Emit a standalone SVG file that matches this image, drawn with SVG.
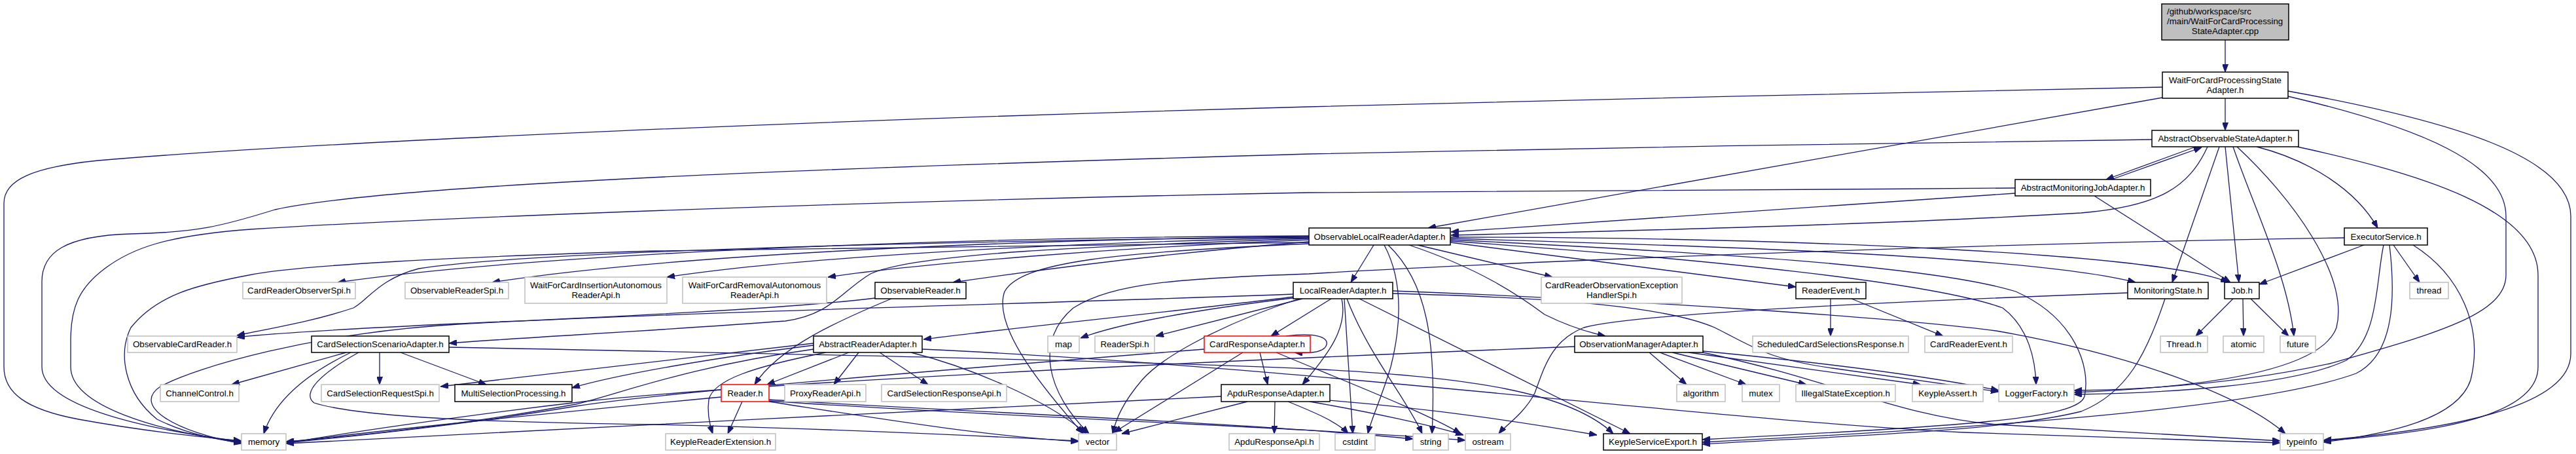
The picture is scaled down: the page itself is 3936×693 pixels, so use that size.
<svg xmlns="http://www.w3.org/2000/svg" width="3936" height="693" viewBox="0 0 3936 693">
<style>
.e path{fill:none;stroke:#191970;stroke-width:1.3;marker-end:url(#ah)}
.nd rect{fill:#fff;stroke:#000;stroke-width:1.5}
.gr rect{fill:#fff;stroke:#bfbfbf;stroke-width:1.5}
.rd rect{fill:#fff;stroke:#ff0000;stroke-width:1.5}
.rt rect{fill:#bfbfbf;stroke:#000;stroke-width:1.5}
text{font-family:"Liberation Sans",Arial,Helvetica,sans-serif;font-size:13.33px;fill:#000;text-anchor:middle}
text.l{text-anchor:start}
</style>
<defs>
<marker id="ah" viewBox="0 0 12 9" markerWidth="12" markerHeight="9" refX="12" refY="4.5" orient="auto" markerUnits="userSpaceOnUse"><path d="M0,0L12,4.5L0,9z" fill="#191970" stroke="#191970" stroke-width="1"/></marker>
</defs>
<rect x="0" y="0" width="3936" height="693" fill="#fff"/>
<g id="edges" class="e">
<path d="M3400,61 L3400,110"/>
<path d="M3400,150 L3400,199"/>
<path d="M3304,149 L2182,348"/>
<path d="M3304,133 C3000,138 2300,155 2000,163 C1300,182 500,215 150,245 C50,255 6,275 6,310 L6,560 C6,600 40,625 120,640 C230,660 320,668 369,673"/>
<path d="M3496,147 C3700,195 3829,250 3829,330 L3829,420 C3829,480 3720,510 3560,555 C3400,590 3250,595 3169,596"/>
<path d="M3496,139 C3750,185 3928,240 3928,330 L3928,540 C3928,620 3750,655 3550,672"/>
<path d="M3355,224 L3218,274"/>
<path d="M3226,274 L3364,225"/>
<path d="M3373,224 C3345,285 3300,315 3180,325 C2900,342 2500,352 2217,359"/>
<path d="M3288,213 C3000,216 2300,228 2000,235 C1300,255 600,280 420,320 C340,345 300,355 200,357 C100,360 64,385 64,430 L64,560 C64,620 220,655 369,674"/>
<path d="M3448,224 C3530,245 3600,290 3633,348"/>
<path d="M3391,224 L3319,431"/>
<path d="M3400,224 L3421,431"/>
<path d="M3412,224 C3445,320 3495,420 3505,513"/>
<path d="M3418,224 C3500,300 3590,420 3570,500 C3545,570 3350,592 3169,599"/>
<path d="M3510,224 C3700,265 3878,320 3878,420 L3878,560 C3878,640 3700,662 3550,673"/>
<path d="M3079,295 L2217,354"/>
<path d="M3200,299 L3408,431"/>
<path d="M3079,287 C2700,290 2300,292 2000,294 C1400,305 700,330 383,350 C250,360 200,380 160,410 C120,440 108,470 108,520 L108,560 C108,620 240,658 369,675"/>
<path d="M2099,374 L2064,431"/>
<path d="M2115,374 C2145,430 2140,500 2125,560 C2110,610 2095,640 2090,662"/>
<path d="M2121,374 C2180,430 2195,520 2188,662"/>
<path d="M2153,374 C2260,410 2320,450 2360,480 C2400,500 2430,508 2453,513"/>
<path d="M2166,374 L2372,423"/>
<path d="M2216,370 L2744,438"/>
<path d="M2216,364 C2600,375 3100,390 3263,431"/>
<path d="M2216,362 C2700,362 3300,385 3405,431"/>
<path d="M2216,368 C2600,395 2950,430 3060,470 C3100,500 3110,550 3111,587"/>
<path d="M2216,366 C2600,385 2950,405 3080,445 C3170,485 3195,560 3185,605 C3175,640 3000,650 2601,671"/>
<path d="M2000,370 C1600,375 1200,378 1000,383 C700,392 450,405 380,420 C300,435 240,450 200,500 C180,540 190,600 240,640 C290,665 340,672 369,676"/>
<path d="M2000,362 C1400,368 800,385 640,410 C580,425 560,460 540,470 C480,490 420,500 362,512"/>
<path d="M2000,360 C1400,362 800,390 516,431"/>
<path d="M2000,361 C1500,366 1000,392 752,431"/>
<path d="M2000,363 C1600,370 1200,395 1019,423"/>
<path d="M2000,366 C1700,378 1400,403 1265,423"/>
<path d="M2000,369 C1800,385 1600,410 1456,431"/>
<path d="M2000,364 C1700,375 1400,385 1330,418 C1285,445 1270,480 1200,490 C1000,505 800,515 686,524"/>
<path d="M2000,372 C1700,385 1560,400 1535,445 C1515,500 1600,600 1655,662"/>
<path d="M3612,374 L3452,434"/>
<path d="M3657,374 L3697,431"/>
<path d="M3642,374 C3630,430 3635,515 3585,550 C3500,590 3300,600 3169,602"/>
<path d="M3651,374 C3660,450 3660,540 3600,570 C3450,625 3000,655 2601,675"/>
<path d="M3687,374 C3760,420 3795,500 3775,580 C3755,640 3650,662 3550,675"/>
<path d="M3582,363 C3000,372 2300,400 2000,418 C1800,425 1700,432 1640,470 C1580,520 1600,600 1664,662"/>
<path d="M1337,455 C1200,472 900,485 700,494 C550,501 420,508 362,515"/>
<path d="M1362,456 C1280,490 1190,530 1153,587"/>
<path d="M1977,453 C1800,475 1550,500 1411,518"/>
<path d="M1983,454 C1850,470 1720,490 1651,516"/>
<path d="M1990,456 L1766,513"/>
<path d="M2034,456 L1942,513"/>
<path d="M1985,456 C1880,490 1780,540 1745,580 C1715,615 1705,640 1700,662"/>
<path d="M2054,456 L2067,662"/>
<path d="M2058,456 C2090,540 2150,610 2173,662"/>
<path d="M2077,456 L2491,662"/>
<path d="M2050,456 C2060,500 2030,540 1990,587"/>
<path d="M1976,449 C1600,463 1000,478 700,495 C480,508 300,560 245,590 C200,620 270,660 369,677"/>
<path d="M2128,444 C2500,458 2900,485 3050,505 C3250,540 3420,600 3492,662"/>
<path d="M2128,448 C2400,455 2550,470 2620,500 C2680,530 2700,548 2800,562 C2900,576 3000,590 3054,598"/>
<path d="M2797,456 L2797,513"/>
<path d="M2829,456 L2969,513"/>
<path d="M3251,447 C2900,460 2500,478 2420,500 C2370,520 2360,560 2345,600 C2330,630 2300,650 2290,662"/>
<path d="M3308,456 C3280,540 3250,600 3180,628 C3050,660 2800,666 2601,678"/>
<path d="M3412,456 L3355,513"/>
<path d="M3427,456 L3428,513"/>
<path d="M3439,456 L3497,513"/>
<path d="M529,538 L354,587"/>
<path d="M580,538 L580,587"/>
<path d="M612,538 L743,587"/>
<path d="M536,538 C470,570 420,610 403,662"/>
<path d="M548,538 C490,570 460,600 480,615 C560,640 800,645 1000,648 C1300,655 1550,668 1648,673"/>
<path d="M686,530 C1200,540 1700,550 2000,563 C2250,575 2400,600 2465,662"/>
<path d="M1297,538 L1172,587"/>
<path d="M1312,538 L1274,587"/>
<path d="M1344,538 L1418,587"/>
<path d="M1392,538 C1480,560 1600,610 1660,662"/>
<path d="M1262,538 C1150,560 1090,580 1083,610 C1080,630 1085,650 1089,662"/>
<path d="M1243,524 C1100,540 850,570 673,590"/>
<path d="M1243,527 C1100,545 950,570 874,592"/>
<path d="M1243,533 C1050,560 950,600 880,617 C700,650 520,668 437,674"/>
<path d="M1409,533 C2000,560 2600,640 3000,660 C3250,668 3400,672 3484,676"/>
<path d="M1965,513 C2010,507 2030,515 2027,526 C2024,537 2005,540 1978,538"/>
<path d="M1925,538 L1937,587"/>
<path d="M1899,538 L1702,660"/>
<path d="M1840,533 C1500,560 1000,600 880,620 C700,650 520,668 437,676"/>
<path d="M1950,538 C2050,580 2180,630 2232,662"/>
<path d="M1948,613 L1947,662"/>
<path d="M1906,613 L1714,662"/>
<path d="M1866,605 C1500,625 800,655 437,677"/>
<path d="M1968,613 C2010,630 2045,645 2060,662"/>
<path d="M2001,613 C2100,630 2190,650 2236,664"/>
<path d="M2030,611 C2200,625 2330,645 2440,664"/>
<path d="M1134,613 L1112,662"/>
<path d="M1175,613 C1350,640 1500,665 1648,674"/>
<path d="M1102,606 C900,625 600,655 437,675"/>
<path d="M1175,610 C1500,630 1900,645 2159,670"/>
<path d="M1175,612 C1500,635 1950,650 2239,672"/>
<path d="M2520,538 L2577,587"/>
<path d="M2536,538 L2668,587"/>
<path d="M2555,538 L2760,587"/>
<path d="M2580,538 L2935,587"/>
<path d="M2602,536 C2800,555 2950,575 3054,596"/>
<path d="M2406,529 C2000,545 1200,580 900,612 C700,635 500,665 437,677"/>
<path d="M2602,538 C2800,580 2900,635 3050,648 C3250,660 3400,668 3484,673"/>
</g>
<g id="n0" class="rt"><rect x="3303" y="6" width="194" height="55"/><text class="l" x="3311" y="22">/github/workspace/src</text><text class="l" x="3311" y="37">/main/WaitForCardProcessing</text><text x="3400" y="52">StateAdapter.cpp</text></g>
<g id="n1" class="nd"><rect x="3304" y="110" width="192" height="40"/><text x="3400" y="127">WaitForCardProcessingState</text><text x="3400" y="142">Adapter.h</text></g>
<g id="n2" class="nd"><rect x="3288" y="199" width="224" height="25"/><text x="3400" y="216">AbstractObservableStateAdapter.h</text></g>
<g id="n3" class="nd"><rect x="3079" y="274" width="207" height="25"/><text x="3182.5" y="291">AbstractMonitoringJobAdapter.h</text></g>
<g id="n4" class="nd"><rect x="2000" y="348" width="216" height="26"/><text x="2108" y="365.5">ObservableLocalReaderAdapter.h</text></g>
<g id="n5" class="nd"><rect x="3582" y="348" width="127" height="26"/><text x="3645.5" y="365.5">ExecutorService.h</text></g>
<g id="n6" class="gr"><rect x="371" y="431" width="172" height="25"/><text x="457" y="448">CardReaderObserverSpi.h</text></g>
<g id="n7" class="gr"><rect x="619" y="431" width="158" height="25"/><text x="698" y="448">ObservableReaderSpi.h</text></g>
<g id="n8" class="gr"><rect x="802" y="423" width="217" height="40"/><text x="910.5" y="440">WaitForCardInsertionAutonomous</text><text x="910.5" y="455">ReaderApi.h</text></g>
<g id="n9" class="gr"><rect x="1043" y="423" width="220" height="40"/><text x="1153" y="440">WaitForCardRemovalAutonomous</text><text x="1153" y="455">ReaderApi.h</text></g>
<g id="n10" class="nd"><rect x="1337" y="431" width="139" height="25"/><text x="1406.5" y="448">ObservableReader.h</text></g>
<g id="n11" class="nd"><rect x="1976" y="431" width="152" height="25"/><text x="2052" y="448">LocalReaderAdapter.h</text></g>
<g id="n12" class="gr"><rect x="2355" y="423" width="215" height="40"/><text x="2462.5" y="440">CardReaderObservationException</text><text x="2462.5" y="455">HandlerSpi.h</text></g>
<g id="n13" class="nd"><rect x="2744" y="431" width="107" height="25"/><text x="2797.5" y="448">ReaderEvent.h</text></g>
<g id="n14" class="nd"><rect x="3251" y="431" width="123" height="25"/><text x="3312.5" y="448">MonitoringState.h</text></g>
<g id="n15" class="nd"><rect x="3399" y="431" width="53" height="25"/><text x="3425.5" y="448">Job.h</text></g>
<g id="n16" class="gr"><rect x="3682" y="431" width="59" height="25"/><text x="3711.5" y="448">thread</text></g>
<g id="n17" class="gr"><rect x="195" y="513" width="167" height="25"/><text x="278.5" y="530">ObservableCardReader.h</text></g>
<g id="n18" class="nd"><rect x="476" y="513" width="210" height="25"/><text x="581" y="530">CardSelectionScenarioAdapter.h</text></g>
<g id="n19" class="nd"><rect x="1243" y="513" width="166" height="25"/><text x="1326" y="530">AbstractReaderAdapter.h</text></g>
<g id="n20" class="gr"><rect x="1601" y="513" width="48" height="25"/><text x="1625" y="530">map</text></g>
<g id="n21" class="gr"><rect x="1673" y="513" width="91" height="25"/><text x="1718.5" y="530">ReaderSpi.h</text></g>
<g id="n22" class="rd"><rect x="1840" y="513" width="162" height="25"/><text x="1921" y="530">CardResponseAdapter.h</text></g>
<g id="n23" class="nd"><rect x="2406" y="513" width="196" height="25"/><text x="2504" y="530">ObservationManagerAdapter.h</text></g>
<g id="n24" class="gr"><rect x="2678" y="513" width="238" height="25"/><text x="2797" y="530">ScheduledCardSelectionsResponse.h</text></g>
<g id="n25" class="gr"><rect x="2941" y="513" width="134" height="25"/><text x="3008" y="530">CardReaderEvent.h</text></g>
<g id="n26" class="gr"><rect x="3301" y="513" width="72" height="25"/><text x="3337" y="530">Thread.h</text></g>
<g id="n27" class="gr"><rect x="3397" y="513" width="62" height="25"/><text x="3428" y="530">atomic</text></g>
<g id="n28" class="gr"><rect x="3484" y="513" width="54" height="25"/><text x="3511" y="530">future</text></g>
<g id="n29" class="gr"><rect x="245" y="587" width="120" height="26"/><text x="305" y="604.5">ChannelControl.h</text></g>
<g id="n30" class="gr"><rect x="491" y="587" width="180" height="26"/><text x="581" y="604.5">CardSelectionRequestSpi.h</text></g>
<g id="n31" class="nd"><rect x="695" y="587" width="179" height="26"/><text x="784.5" y="604.5">MultiSelectionProcessing.h</text></g>
<g id="n32" class="rd"><rect x="1102" y="587" width="73" height="26"/><text x="1138.5" y="604.5">Reader.h</text></g>
<g id="n33" class="gr"><rect x="1199" y="587" width="124" height="26"/><text x="1261" y="604.5">ProxyReaderApi.h</text></g>
<g id="n34" class="gr"><rect x="1347" y="587" width="191" height="26"/><text x="1442.5" y="604.5">CardSelectionResponseApi.h</text></g>
<g id="n35" class="nd"><rect x="1866" y="587" width="166" height="26"/><text x="1949" y="604.5">ApduResponseAdapter.h</text></g>
<g id="n36" class="gr"><rect x="2562" y="587" width="74" height="26"/><text x="2599" y="604.5">algorithm</text></g>
<g id="n37" class="gr"><rect x="2662" y="587" width="57" height="26"/><text x="2690.5" y="604.5">mutex</text></g>
<g id="n38" class="gr"><rect x="2744" y="587" width="152" height="26"/><text x="2820" y="604.5">IllegalStateException.h</text></g>
<g id="n39" class="gr"><rect x="2922" y="587" width="108" height="26"/><text x="2976" y="604.5">KeypleAssert.h</text></g>
<g id="n40" class="gr"><rect x="3054" y="587" width="115" height="26"/><text x="3111.5" y="604.5">LoggerFactory.h</text></g>
<g id="n41" class="gr"><rect x="369" y="662" width="68" height="25"/><text x="403" y="679">memory</text></g>
<g id="n42" class="gr"><rect x="1017" y="662" width="168" height="25"/><text x="1101" y="679">KeypleReaderExtension.h</text></g>
<g id="n43" class="gr"><rect x="1648" y="662" width="58" height="25"/><text x="1677" y="679">vector</text></g>
<g id="n44" class="gr"><rect x="1878" y="662" width="138" height="25"/><text x="1947" y="679">ApduResponseApi.h</text></g>
<g id="n45" class="gr"><rect x="2040" y="662" width="61" height="25"/><text x="2070.5" y="679">cstdint</text></g>
<g id="n46" class="gr"><rect x="2159" y="662" width="54" height="25"/><text x="2186" y="679">string</text></g>
<g id="n47" class="gr"><rect x="2239" y="662" width="69" height="25"/><text x="2273.5" y="679">ostream</text></g>
<g id="n48" class="nd"><rect x="2450" y="662" width="151" height="25"/><text x="2525.5" y="679">KeypleServiceExport.h</text></g>
<g id="n49" class="gr"><rect x="3484" y="662" width="66" height="25"/><text x="3517" y="679">typeinfo</text></g>
</svg>
